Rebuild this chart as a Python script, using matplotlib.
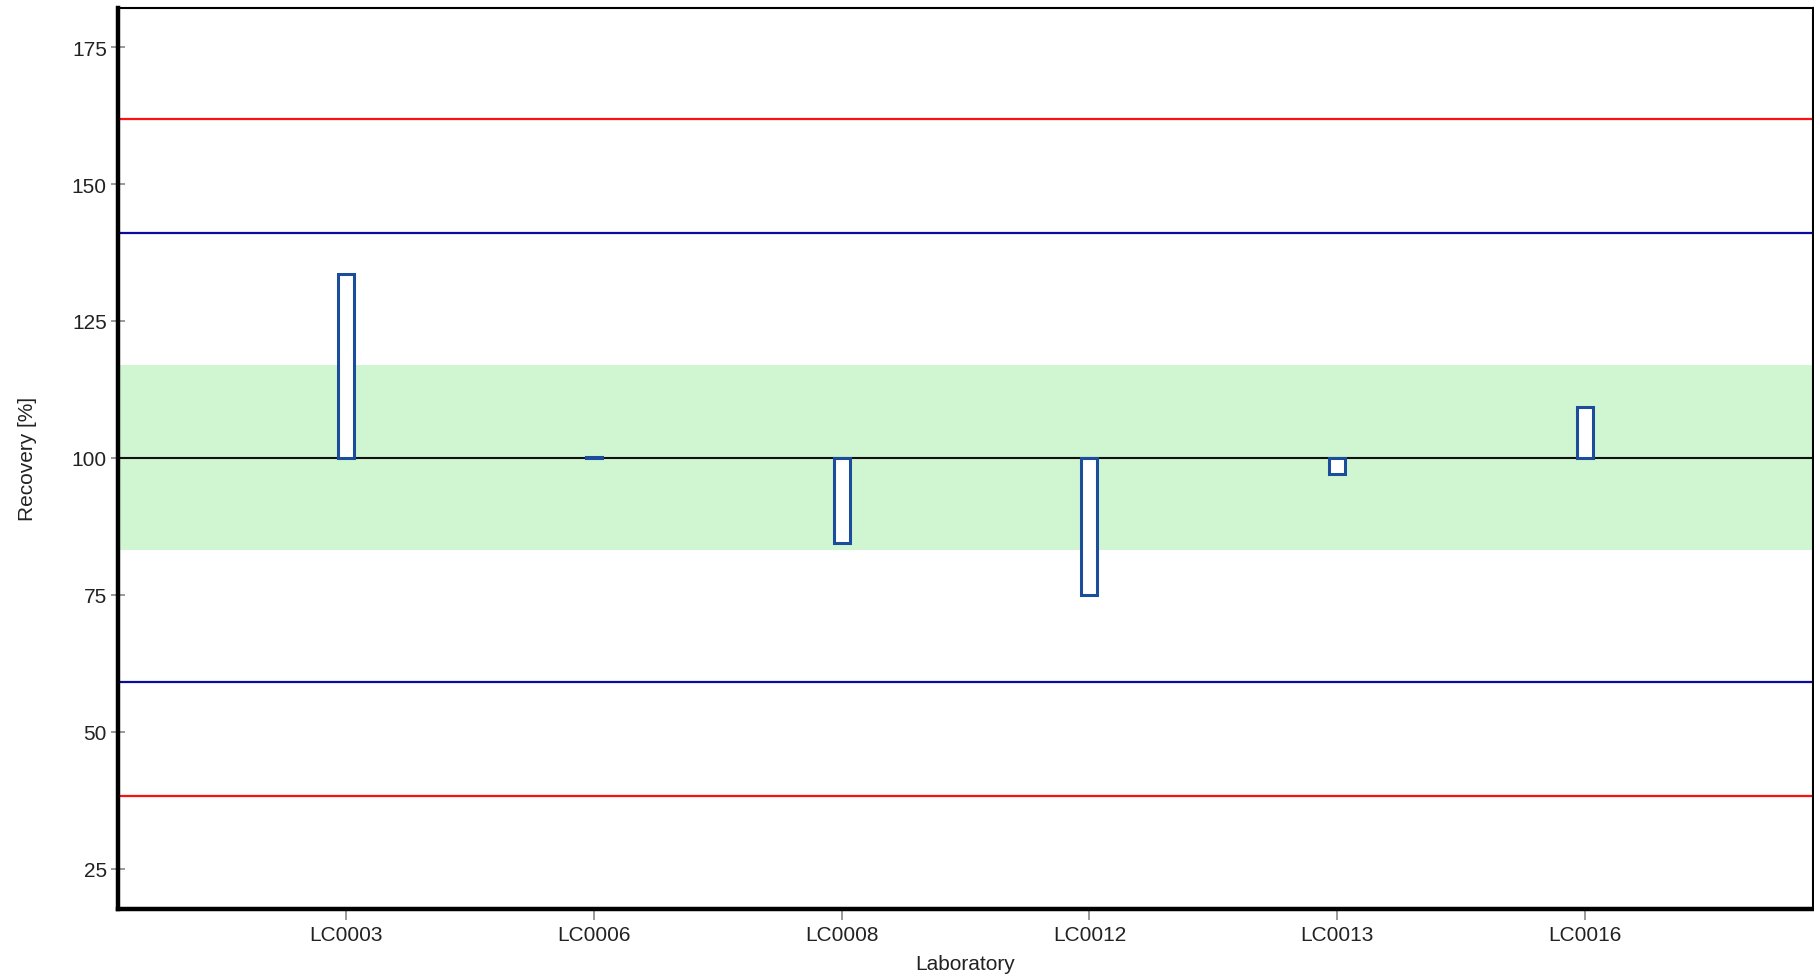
import numpy as np
import matplotlib.pyplot as plt

plt.rcParams['font.family'] = ['Liberation Sans', 'DejaVu Sans']

# Datos
laboratorios = ['LC0003', 'LC0006', 'LC0008', 'LC0012', 'LC0013', 'LC0016']
recuperacion = [133.6, 100.2, 84.4, 74.9, 97.0, 109.3]
referencia = 100.0
banda_verde = [83.1, 116.9]
limites_aviso = [59.0, 141.0]
limites_accion = [38.2, 161.9]
yticks = [25, 50, 75, 100, 125, 150, 175]

fig = plt.figure(figsize=(18.14, 9.78), dpi=100)
ax = fig.add_axes([0.065, 0.070, 0.9345, 0.9205])

x = np.arange(len(laboratorios))
valores = np.array(recuperacion)

# banda y lineas de control
ax.axhspan(banda_verde[0], banda_verde[1], color='#cff6d0', zorder=0, lw=0)
for v in limites_accion:
    ax.axhline(v, color='#ff1010', lw=1.6, zorder=1)
for v in limites_aviso:
    ax.axhline(v, color='#0a0aa0', lw=1.6, zorder=1)
ax.axhline(referencia, color='#111111', lw=1.5, zorder=2)

# barras desde 100
ax.bar(x, valores - referencia, bottom=referencia, width=0.065,
       facecolor='white', edgecolor='#1c4c9c', linewidth=2.2, zorder=3)

ax.set_xlim(-0.92, 5.92)
ax.set_ylim(17.7, 182.1)
ax.set_xticks(x)
ax.set_xticklabels(laboratorios)
ax.set_yticks(yticks)

ax.tick_params(axis='y', direction='inout', length=10, width=1.2, color='#888888',
               labelsize=15, labelcolor='#222222', pad=3)
ax.tick_params(axis='x', direction='out', length=8, width=1.2, color='#888888',
               labelsize=15, labelcolor='#222222', pad=4)

ax.spines['left'].set_linewidth(3.2)
ax.spines['bottom'].set_linewidth(3.2)
ax.spines['top'].set_linewidth(1.5)
ax.spines['right'].set_linewidth(1.5)

ax.set_xlabel('Laboratory', fontsize=15, color='#222222', labelpad=7)
ax.set_ylabel('Recovery [%]', fontsize=15, color='#222222', labelpad=25)

fig.savefig('out.png', dpi=100)
